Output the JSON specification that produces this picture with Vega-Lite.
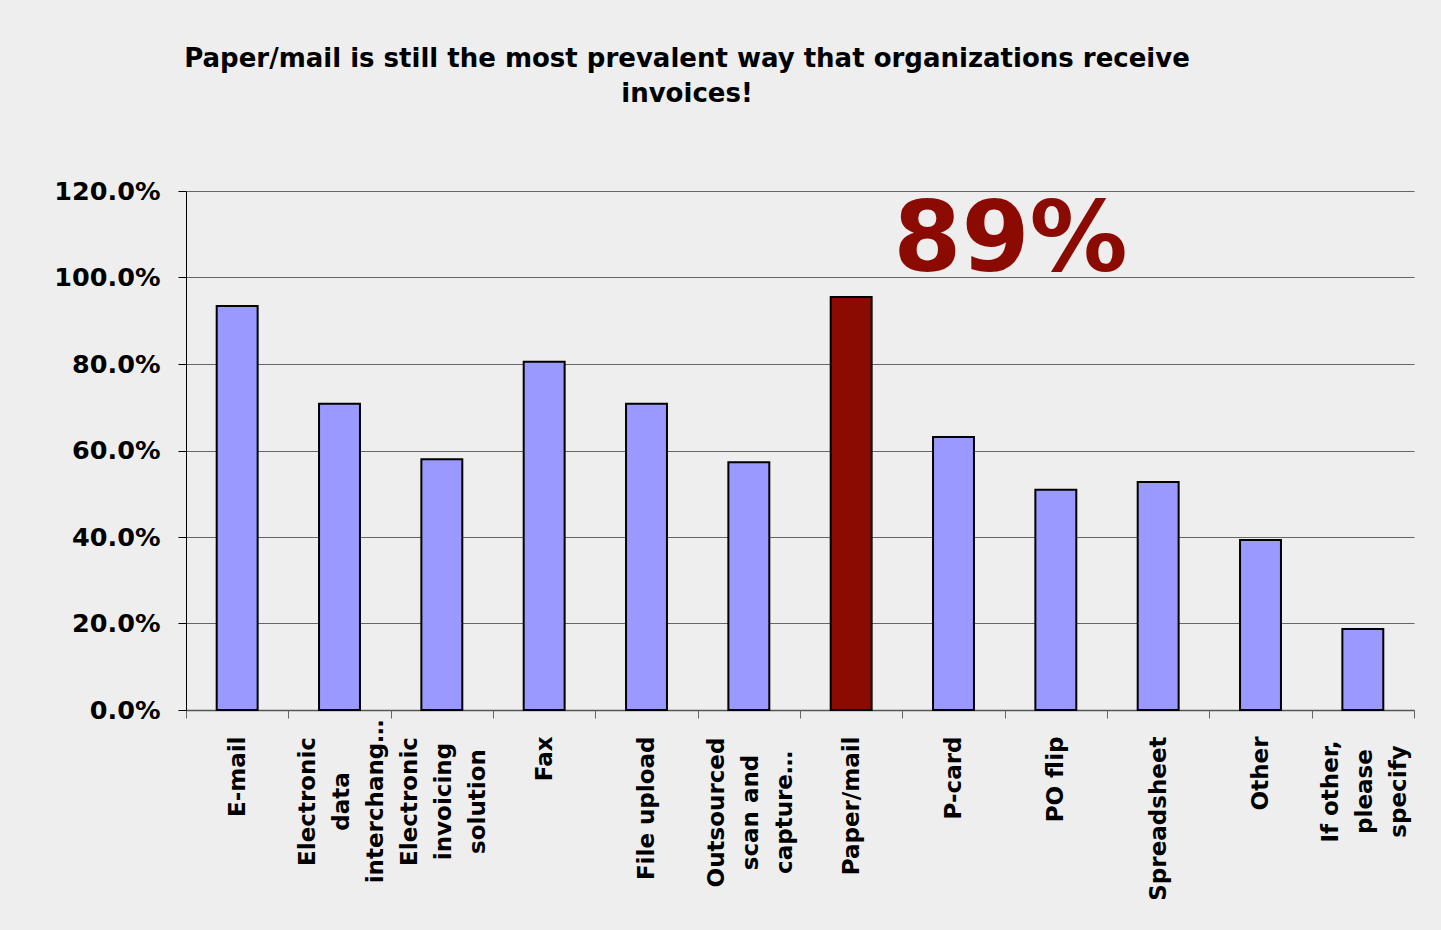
{
  "$schema": "https://vega.github.io/schema/vega-lite/v6.json",
  "autosize": {"type": "none"},
  "padding": {"left": 186, "top": 191, "right": 27, "bottom": 220},
  "width": 1228,
  "height": 519,
  "background": "#eeeeee",
  "config": {
    "view": {"stroke": null, "fill": "#eeeeee"},
    "font": "DejaVu Sans"
  },
  "title": {
    "text": ["Paper/mail is still the most prevalent way that organizations receive", "invoices!"],
    "font": "DejaVu Sans",
    "fontSize": 26,
    "fontWeight": "bold",
    "color": "#000000",
    "anchor": "middle",
    "dx": -113,
    "lineHeight": 35,
    "offset": 72
  },
  "data": {
    "values": [
      {"method": "E-mail", "share": 0.934, "highlight": "no"},
      {"method": "Electronic data interchang…", "share": 0.708, "highlight": "no"},
      {"method": "Electronic invoicing solution", "share": 0.580, "highlight": "no"},
      {"method": "Fax", "share": 0.805, "highlight": "no"},
      {"method": "File upload", "share": 0.708, "highlight": "no"},
      {"method": "Outsourced scan and capture…", "share": 0.573, "highlight": "no"},
      {"method": "Paper/mail", "share": 0.955, "highlight": "yes"},
      {"method": "P-card", "share": 0.631, "highlight": "no"},
      {"method": "PO flip", "share": 0.509, "highlight": "no"},
      {"method": "Spreadsheet", "share": 0.527, "highlight": "no"},
      {"method": "Other", "share": 0.393, "highlight": "no"},
      {"method": "If other, please specify", "share": 0.187, "highlight": "no"}
    ]
  },
  "layer": [
    {
      "mark": {"type": "bar", "stroke": "#000000", "strokeWidth": 2, "width": {"band": 0.4}},
      "encoding": {
        "x": {
          "field": "method",
          "type": "nominal",
          "sort": null,
          "scale": {"paddingInner": 0, "paddingOuter": 0},
          "axis": {
            "title": null,
            "labelAngle": -90,
            "labelAlign": {
              "condition": {
                "test": "indexof(['Electronic data interchang…', 'Electronic invoicing solution', 'Outsourced scan and capture…', 'If other, please specify'], datum.value) >= 0",
                "value": "center"
              },
              "value": "right"
            },
            "labelBaseline": "middle",
            "labelFont": "DejaVu Sans",
            "labelFontSize": 23,
            "labelFontWeight": "bold",
            "labelColor": "#000000",
            "labelLineHeight": 34,
            "labelPadding": {
              "condition": [
                {"test": "datum.value == 'Electronic data interchang…' || datum.value == 'Electronic invoicing solution'", "value": 83},
                {"test": "datum.value == 'Outsourced scan and capture…'", "value": 94},
                {"test": "datum.value == 'If other, please specify'", "value": 73}
              ],
              "value": 18
            },
            "labelLimit": 0,
            "labelOffset": {
              "condition": {
                "test": "indexof(['Electronic data interchang…', 'Electronic invoicing solution', 'Outsourced scan and capture…', 'If other, please specify'], datum.value) >= 0",
                "value": -32
              },
              "value": 0
            },
            "tickBand": "extent",
            "tickSize": 8,
            "tickColor": "#666666",
            "domainColor": "#555555",
            "domainWidth": 1.5,
            "labelExpr": "datum.value == 'Electronic data interchang…' ? ['Electronic', 'data', 'interchang…'] : datum.value == 'Electronic invoicing solution' ? ['Electronic', 'invoicing', 'solution'] : datum.value == 'Outsourced scan and capture…' ? ['Outsourced', 'scan and', 'capture…'] : datum.value == 'If other, please specify' ? ['If other,', 'please', 'specify'] : datum.value"
          }
        },
        "y": {
          "field": "share",
          "type": "quantitative",
          "scale": {"domain": [0, 1.2]},
          "axis": {
            "title": null,
            "values": [0, 0.2, 0.4, 0.6, 0.8, 1.0, 1.2],
            "format": ".1%",
            "labelFont": "DejaVu Sans",
            "labelFontSize": 25.5,
            "labelFontWeight": "bold",
            "labelColor": "#000000",
            "labelPadding": 18,
            "tickSize": 8,
            "tickColor": "#000000",
            "domainColor": "#000000",
            "grid": true,
            "gridColor": "#666666",
            "gridWidth": 1
          }
        },
        "color": {
          "field": "highlight",
          "type": "nominal",
          "scale": {"domain": ["no", "yes"], "range": ["#9999ff", "#8b0a02"]},
          "legend": null
        }
      }
    },
    {
      "data": {"values": [{"method": "P-card", "share": 1.015, "note": "89%"}]},
      "mark": {
        "type": "text",
        "font": "DejaVu Sans",
        "fontSize": 98,
        "fontWeight": "bold",
        "color": "#8b0a02",
        "align": "center",
        "baseline": "alphabetic",
        "dx": 57
      },
      "encoding": {
        "x": {"field": "method", "type": "nominal", "sort": null},
        "y": {"field": "share", "type": "quantitative"},
        "text": {"field": "note"}
      }
    }
  ]
}
